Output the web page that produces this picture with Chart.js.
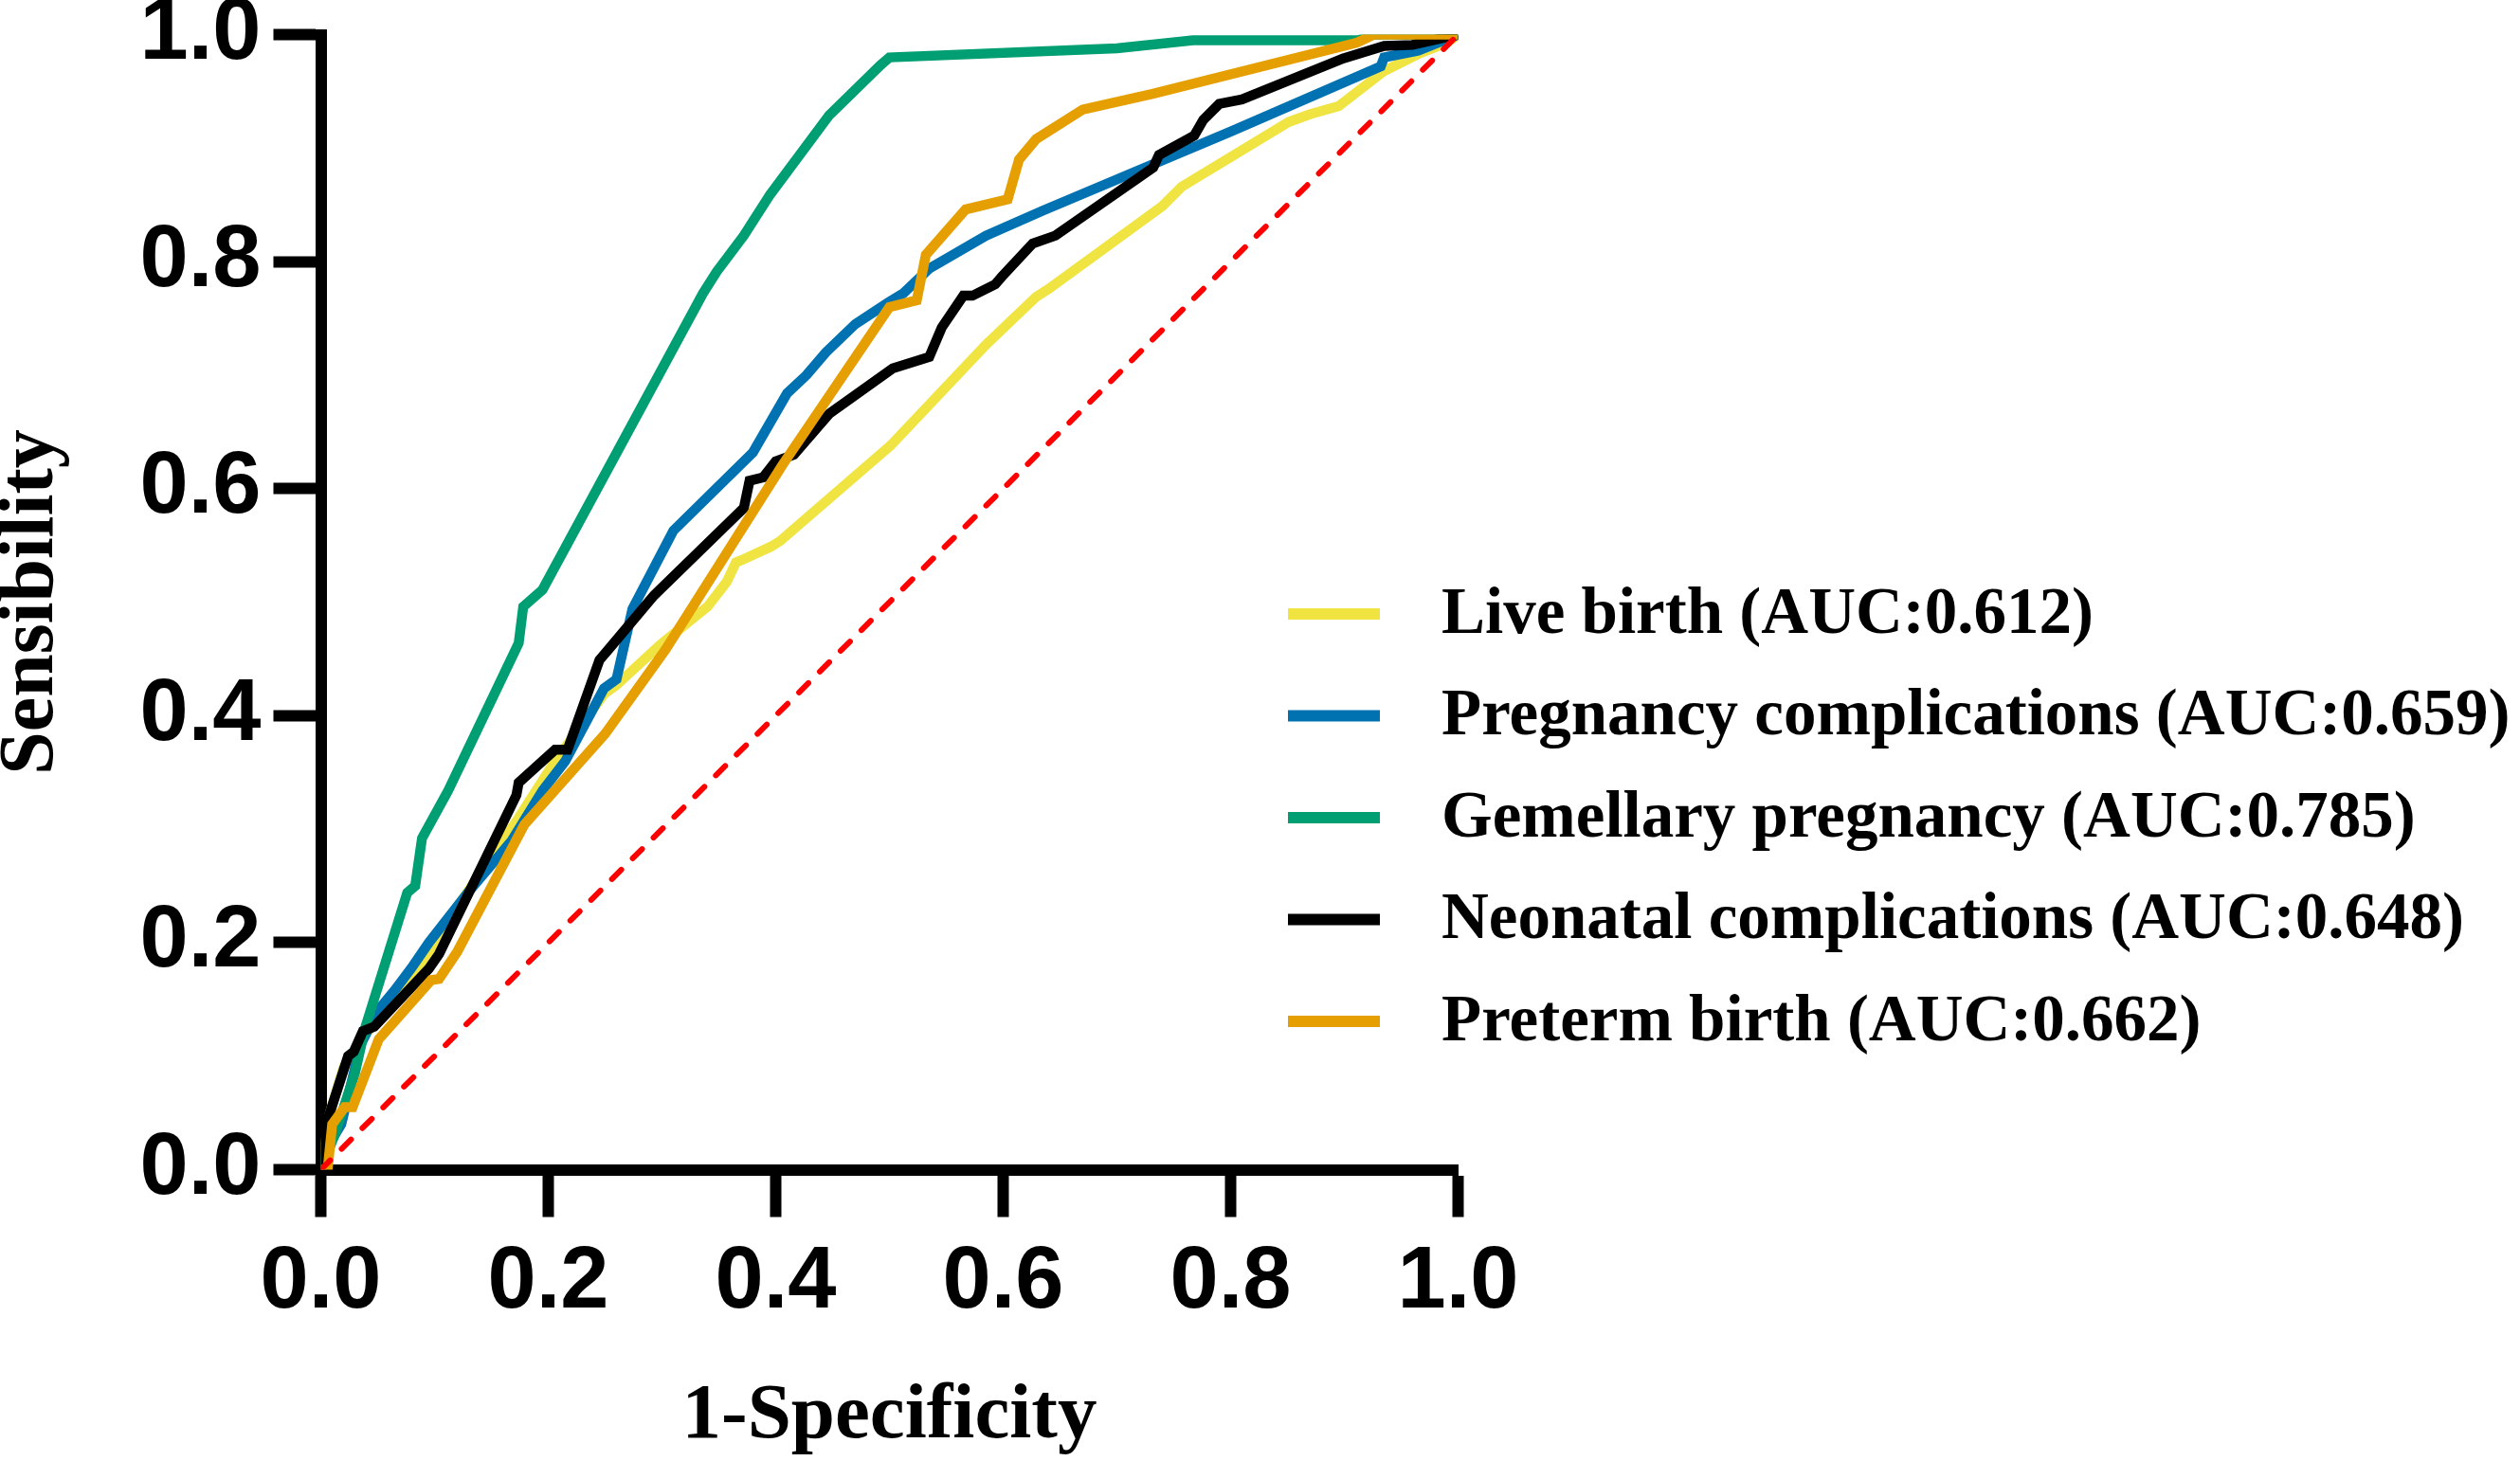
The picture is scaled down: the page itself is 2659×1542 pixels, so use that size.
<!DOCTYPE html>
<html>
<head>
<meta charset="utf-8">
<script src="https://cdn.jsdelivr.net/npm/chart.js@4.4.1/dist/chart.umd.min.js"></script>
<style>
  body { margin: 0; background: #fff; }
  #wrap { width: 2659px; height: 1542px; position: relative; }
</style>
</head>
<body>
<div id="wrap"><canvas id="roc"></canvas></div>
<script>
// ROC curves, values (1-specificity, sensitivity)
const seriesNames = ['Live birth (AUC:0.612)', 'Pregnancy complications (AUC:0.659)', 'Gemellary pregnancy (AUC:0.785)', 'Neonatal complications (AUC:0.648)', 'Preterm birth (AUC:0.662)'];
const seriesColors = ['#F0E442', '#0072B2', '#009E73', '#000000', '#E69F00'];
const axisTicks = [0, 0.2, 0.4, 0.6, 0.8, 1.0];

const liveFpr = [0, 0.005, 0.008, 0.02, 0.04, 0.07, 0.095, 0.11, 0.154, 0.174, 0.204, 0.249, 0.26, 0.299, 0.34, 0.357, 0.365, 0.37, 0.396, 0.404, 0.501, 0.585, 0.629, 0.64, 0.74, 0.757, 0.851, 0.87, 0.895, 0.935, 0.965, 0.99, 1];
const liveTpr = [0, 0.03, 0.05, 0.09, 0.12, 0.16, 0.19, 0.217, 0.281, 0.31, 0.357, 0.419, 0.427, 0.463, 0.496, 0.518, 0.535, 0.537, 0.549, 0.554, 0.638, 0.727, 0.769, 0.776, 0.849, 0.866, 0.923, 0.93, 0.937, 0.968, 0.983, 0.993, 1];

const pregFpr = [0, 0.006, 0.018, 0.035, 0.05, 0.065, 0.08, 0.095, 0.13, 0.168, 0.195, 0.215, 0.249, 0.26, 0.274, 0.31, 0.38, 0.41, 0.427, 0.444, 0.47, 0.499, 0.512, 0.535, 0.585, 0.635, 0.801, 0.932, 0.935, 0.965, 1];
const pregTpr = [0, 0.02, 0.04, 0.11, 0.14, 0.158, 0.178, 0.2, 0.245, 0.29, 0.334, 0.36, 0.424, 0.432, 0.494, 0.563, 0.632, 0.684, 0.7, 0.72, 0.745, 0.764, 0.772, 0.794, 0.823, 0.845, 0.915, 0.972, 0.98, 0.986, 1];

const gemFpr = [0, 0.012, 0.03, 0.039, 0.076, 0.083, 0.089, 0.112, 0.174, 0.178, 0.195, 0.336, 0.348, 0.372, 0.395, 0.447, 0.492, 0.5, 0.7, 0.767, 0.912, 0.925, 1];
const gemTpr = [0, 0.03, 0.085, 0.125, 0.244, 0.25, 0.292, 0.334, 0.464, 0.496, 0.511, 0.772, 0.791, 0.823, 0.859, 0.929, 0.973, 0.98, 0.988, 0.995, 0.995, 1, 1];

const neoFpr = [0, 0.007, 0.024, 0.029, 0.037, 0.047, 0.095, 0.104, 0.172, 0.174, 0.206, 0.217, 0.245, 0.251, 0.293, 0.372, 0.377, 0.389, 0.4, 0.416, 0.447, 0.503, 0.535, 0.546, 0.565, 0.573, 0.593, 0.599, 0.626, 0.646, 0.732, 0.737, 0.768, 0.776, 0.79, 0.81, 0.899, 0.935, 0.96, 1];
const neoTpr = [0, 0.047, 0.1, 0.104, 0.122, 0.126, 0.177, 0.19, 0.33, 0.341, 0.37, 0.37, 0.449, 0.456, 0.506, 0.583, 0.607, 0.61, 0.624, 0.63, 0.666, 0.706, 0.716, 0.742, 0.77, 0.77, 0.78, 0.787, 0.816, 0.823, 0.883, 0.894, 0.911, 0.925, 0.939, 0.943, 0.979, 0.99, 0.991, 1];

const pretFpr = [0, 0.006, 0.01, 0.021, 0.028, 0.051, 0.097, 0.104, 0.12, 0.179, 0.25, 0.303, 0.406, 0.5, 0.524, 0.532, 0.567, 0.604, 0.614, 0.629, 0.67, 0.732, 0.911, 0.926, 1];
const pretTpr = [0, 0, 0.04, 0.055, 0.055, 0.115, 0.167, 0.168, 0.192, 0.304, 0.384, 0.458, 0.621, 0.76, 0.766, 0.806, 0.846, 0.855, 0.89, 0.908, 0.934, 0.948, 0.993, 1, 1];

const refFpr = [0, 1];
const refTpr = [0, 1];

const fprList = [liveFpr, pregFpr, gemFpr, neoFpr, pretFpr];
const tprList = [liveTpr, pregTpr, gemTpr, neoTpr, pretTpr];

function toPoints(xs, ys) {
  return xs.map((x, i) => ({x: x, y: ys[i]}));
}

const sansBold = {family: "'Liberation Sans', Arial, sans-serif", size: 92, weight: 'bold', lineHeight: 1.2};
const serifFamily = "'Liberation Serif', 'Times New Roman', serif";

// later series are painted on top, like the original
const datasets = seriesNames.map((name, i) => ({
  label: name,
  data: toPoints(fprList[i], tprList[i]),
  borderColor: seriesColors[i],
  backgroundColor: seriesColors[i],
  borderWidth: 10.5,
  showLine: true,
  pointRadius: 0,
  fill: false,
  order: seriesNames.length - i
}));
datasets.push({
  label: 'reference',
  data: toPoints(refFpr, refTpr),
  borderColor: '#FF0000',
  borderWidth: 6,
  borderDash: [14, 17],
  borderCapStyle: 'round',
  showLine: true,
  pointRadius: 0,
  order: 0
});

// legend on the right, drawn by hand
const sideLegend = {
  id: 'sideLegend',
  afterDraw(chart) {
    const ctx = chart.ctx;
    ctx.save();
    ctx.font = 'bold 69px ' + serifFamily;
    ctx.textBaseline = 'middle';
    ctx.textAlign = 'left';
    ctx.lineWidth = 12;
    seriesNames.forEach((name, i) => {
      const y = 648 + i * 107.5;
      ctx.strokeStyle = seriesColors[i];
      ctx.beginPath();
      ctx.moveTo(1359, y);
      ctx.lineTo(1456, y);
      ctx.stroke();
      ctx.fillStyle = '#000';
      ctx.fillText(name, 1521, y + 2);
    });
    ctx.restore();
  }
};

const axisLine = {display: true, width: 12, color: '#000'};
const gridOpts = {drawOnChartArea: false, drawTicks: true, tickLength: 50, tickWidth: 12, tickColor: '#000'};

new Chart(document.getElementById('roc'), {
  type: 'scatter',
  data: {datasets: datasets},
  plugins: [sideLegend],
  options: {
    responsive: true,
    maintainAspectRatio: false,
    animation: false,
    layout: {padding: {left: 0, top: 36.6, right: 1120.5, bottom: 0}},
    plugins: {legend: {display: false}, tooltip: {enabled: false}},
    scales: {
      x: {
        type: 'linear', min: 0, max: 1,
        border: axisLine,
        grid: gridOpts,
        afterBuildTicks: (scale) => { scale.ticks = axisTicks.map(v => ({value: v})); },
        afterFit: (scale) => { scale.height = 307.5; scale.paddingLeft = 0; scale.paddingRight = 0; },
        ticks: {
          color: '#000', font: sansBold, padding: 15, maxRotation: 0, autoSkip: false,
          callback: (v) => Number(v).toFixed(1)
        },
        title: {
          display: true, text: '1-Specificity', color: '#000',
          font: {family: serifFamily, size: 83, weight: 'bold', lineHeight: 1},
          padding: {top: 0, bottom: 5}
        }
      },
      y: {
        type: 'linear', min: 0, max: 1,
        border: axisLine,
        grid: gridOpts,
        afterBuildTicks: (scale) => { scale.ticks = axisTicks.map(v => ({value: v})); },
        afterFit: (scale) => { scale.width = 338.5; scale.paddingTop = 0; scale.paddingBottom = 0; },
        ticks: {
          color: '#000', font: sansBold, padding: 13, autoSkip: false,
          callback: (v) => Number(v).toFixed(1)
        },
        title: {
          display: true, text: 'Sensibility', color: '#000',
          font: {family: serifFamily, size: 82, weight: 'bold', lineHeight: 1},
          padding: {top: -7, bottom: 0}
        }
      }
    }
  }
});
</script>
</body>
</html>
